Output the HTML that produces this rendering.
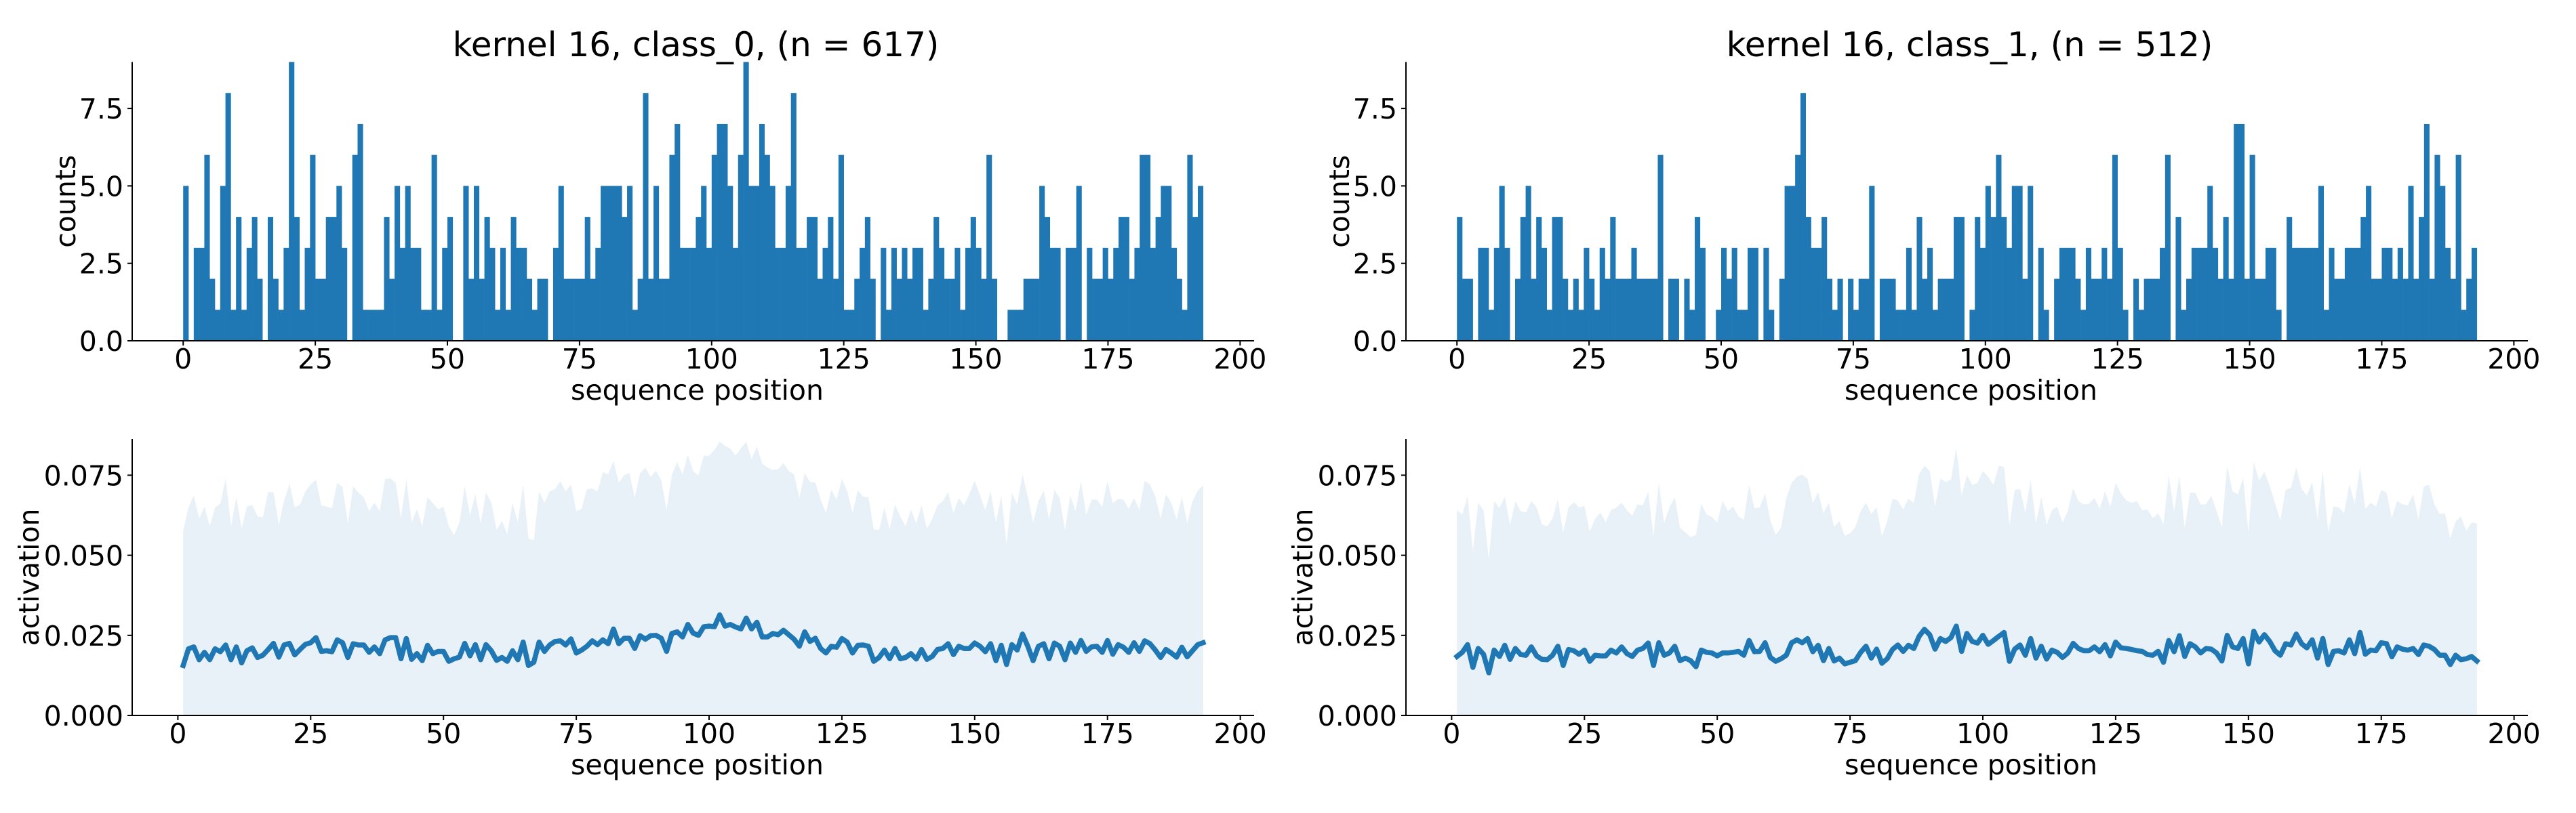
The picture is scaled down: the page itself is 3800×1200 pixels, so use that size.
<!DOCTYPE html>
<html><head><meta charset="utf-8"><title>kernel 16 activations</title>
<style>
html,body{margin:0;padding:0;background:#fff;}
svg{display:block;font-family:"DejaVu Sans","Liberation Sans",sans-serif;}
</style></head>
<body>
<svg id="fig" width="3800" height="1200" viewBox="0 0 3800 1200" xmlns="http://www.w3.org/2000/svg">
<rect x="0" y="0" width="3800" height="1200" fill="#ffffff"/>
</svg>
<script>
// ---------- DATA ----------
const xTicks = [0, 25, 50, 75, 100, 125, 150, 175, 200];
const countTicks = [0, 2.5, 5, 7.5];
const countTickLabels = ["0.0", "2.5", "5.0", "7.5"];
const actTicks = [0, 25, 50, 75];            // in units of 1e-3
const actTickLabels = ["0.000", "0.025", "0.050", "0.075"];
const titles = ["kernel 16, class_0, (n = 617)", "kernel 16, class_1, (n = 512)"];

const counts0 = [5,0,3,3,6,2,1,5,8,1,4,1,3,4,2,0,4,2,1,3,9,4,1,3,6,2,2,4,4,5,3,0,6,7,1,1,1,1,4,2,5,3,5,3,3,1,1,6,1,3,4,0,0,5,2,5,2,4,3,1,3,1,4,3,3,2,1,2,2,0,3,5,2,2,2,2,4,2,3,5,5,5,5,4,5,1,2,8,2,5,2,2,6,7,3,3,3,4,5,3,
6,7,7,5,3,6,9,5,5,7,6,5,3,3,5,8,3,3,4,4,2,3,4,2,6,1,1,2,3,4,2,0,3,1,3,2,3,2,3,3,1,2,4,3,2,2,3,1,3,4,3,2,6,2,0,0,1,1,1,2,2,2,5,4,3,3,0,3,3,5,0,3,2,2,3,2,3,4,4,2,3,6,6,3,4,5,5,3,2,1,6,4,5];
const counts1 = [4,2,2,0,3,3,1,3,5,3,0,2,4,5,2,4,3,1,4,4,2,1,2,1,3,2,1,3,2,4,2,2,2,3,2,2,2,2,6,0,2,2,0,2,1,4,3,0,0,1,3,2,3,1,1,3,3,0,3,1,0,2,5,5,6,8,4,3,3,4,2,1,2,0,2,1,2,2,5,0,2,2,2,1,1,3,1,4,2,3,1,2,2,2,4,4,0,1,4,3,
5,4,6,4,3,5,5,2,5,0,3,1,0,2,3,3,3,2,1,3,2,2,3,2,6,3,1,0,2,1,2,2,2,3,6,0,4,1,2,3,3,3,5,3,2,4,2,7,7,2,6,2,2,3,3,1,0,4,3,3,3,3,3,5,1,3,2,2,3,3,3,4,5,2,2,3,3,2,3,2,5,2,4,7,2,6,5,3,2,6,1,2,3];

// activation values in units of 1e-3, positions 1..193
const mean0 = [15.6,20.8,21.4,17.4,19.7,17.4,20.8,19.9,22,17.4,21.4,16.4,20.2,21.1,18.1,18.8,20.6,22.5,18.2,22,22.5,18.9,20.6,22.2,22.7,24.3,20,20.2,19.9,23.6,22.7,18.1,22.4,22,22,19.7,21.4,19.3,23.6,24.3,24.3,17.7,24,17.5,19.3,17.1,21.9,19.3,20,20,16.9,17.7,18.2,22.5,18.6,22.1,17.4,22.1,20.2,17.2,18.1,16.9,20.2,17.4,22.9,15.6,16.6,22.9,20,22,23.1,23.3,22,23.9,19.5,20.4,21.6,23.3,22.1,23.6,22.4,27,22.4,24.1,24.1,20.9,24.9,23.8,24.9,25,24.1,20,25.6,26.1,24.5,28.4,25.7,25,27.7,27.9,
27.7,31.4,27.9,28.4,27.6,27,30.4,27,29.1,24.5,24.5,25.6,25.2,26.6,25.2,23.8,21.6,26.1,23.1,24.1,20.9,19.5,21.6,21.3,24,22.9,19.5,21.9,22,21.6,16.9,18.1,20.4,17.7,20.9,17.7,18.1,19.3,17.6,20.6,17.5,18.4,20.6,20.9,22.4,19,21.6,20.9,20.9,22.6,21.6,19.9,22.4,17.1,21.9,15.9,22.1,20.4,25.4,21.6,17.1,21.6,22.4,17.7,22.6,21.6,17.4,22.6,19.7,23.4,20,21.4,21.6,19.7,23.4,19.1,22.1,21.3,19.7,22.7,20,23.3,22.4,20.4,18.1,20.6,19.5,18.2,21.3,18.3,20.2,22.1,22.7];
const upper0 = [57.7,64.9,68.8,61.4,65.2,59.1,64.9,66.1,73.9,59.1,68.1,58.4,65.2,65.7,62.1,61.9,69.7,69.7,59.5,67,72.4,65,65.9,69.9,72.1,73.6,65.6,65.2,64.7,72.6,71.3,59.9,71.6,69.5,68.1,63.8,66.4,63.8,73.8,74,72.6,61.6,73.8,60.2,64.5,59.1,68.1,66.3,64.3,65.2,59.1,56.3,60.2,71.6,62.4,69.1,59.9,69.5,66.6,57.9,60.7,56.6,66.4,60.2,72,55.2,54.7,69.9,66.4,69.9,70.7,73.1,69.9,72.1,63.8,64.5,70.6,70.9,69.9,75.9,75.2,79.5,72.6,75,75.7,67.9,75.6,77.4,74.5,76.4,73.4,64.1,75.2,79.1,75.2,81.4,76.3,74.9,81.1,81.1,
82.9,85.5,84.1,83.3,81.1,83.4,85.5,80,84,78.6,77.4,76.6,76.9,78.8,76.3,75.2,67.9,75.7,72.9,72.7,67.4,63.3,70.4,67.4,73.8,70,63.3,70.2,68.3,68.1,58.1,57.9,64.9,58.1,65.9,62,59.1,64.3,59.9,65.7,58.3,61.3,65.6,66.9,69.7,63.1,67.9,65.6,69.1,73.3,68.8,64.1,70,60.2,68.6,53.4,69.5,65.9,75.2,68.4,60.2,67,70.2,61.3,70.4,67.9,57.9,68.6,63.8,73.1,62.6,67.4,67.4,65.2,73.1,66.3,67.6,67.4,64.5,67.9,64.1,73.3,72.1,68.4,61.6,69,66.4,61.1,68.3,60,66.9,70.2,71.9];
const mean1 = [18.4,19.7,22.1,15,20.9,19.1,13.3,20.4,18.4,21.9,17.5,20.9,19,18.8,21.4,18.6,17.5,17.4,18.8,21.6,15.6,20.6,20.2,19.1,20.4,16.9,18.8,18.6,18.6,20.4,19.5,21.4,19.3,18.4,20.4,20.9,22.6,15.6,22.7,18.8,19.5,21.6,17.1,17.9,17.1,15.2,20.4,19.7,19.5,18.6,19.5,19.5,19.7,20,18.8,23.4,19.9,20,22.7,18.1,16.9,17.7,18.8,22.7,23.6,22.7,24,19.9,21.9,17.1,20.9,17,17.9,16.1,16.6,17.1,19.7,21.6,17.9,20.7,16.3,17.7,20.6,22,20,21.9,20.9,24.7,26.9,25.2,20.7,24,23.1,24.3,27.9,20,25.6,23.1,22.6,25,
22.2,23.4,24.7,25.9,16.9,20.7,22,18.8,24,17.9,21.6,17.6,20.4,19.7,18.1,19.5,22.5,20.9,20.2,20.2,21.4,19.9,22.1,18.6,22.9,21.1,20.9,20.6,20.2,20,19,18.8,20,16.6,23.4,19.9,24.9,18.4,22.4,21.4,19.5,20.9,20.7,19.5,17,25,21.4,20.9,24,16.1,26.3,22.9,25.2,23.1,20.2,18.8,22.4,22,25.4,22.4,21.1,23.6,17.9,24,15.9,20,20.2,19.5,23.6,19.3,25.9,19.1,20.4,20.2,22.7,22.4,18.3,21.4,20.7,20.4,20.9,19,22,21.6,20.6,18.8,18.8,15.9,18.8,17.4,17.7,18.4,17];
const upper1 = [64.1,62.7,68.4,51.4,66.4,64,48.8,67,64.7,68.3,59.5,66.9,63.8,63.4,66.9,65,59.7,59,61.6,67.4,57.1,64.9,66.6,64.9,65.4,57.4,61.4,63.3,60.4,64.1,64.9,66.4,64,62.4,65.9,65.6,69.9,55.7,72.7,60.2,64.9,68.1,58.6,57.1,55.7,56.3,66.1,62.7,62,60.2,67,63.8,65.2,62.1,61.1,72,64.7,64.9,69.3,60.9,56.4,58.6,67.7,72.6,74.5,75.2,73.8,66.3,69.7,63.1,66.4,58.8,60.7,56.1,56.9,58.8,63.8,66.4,62.9,65,55.9,60.6,67.6,67.1,64.3,67.7,66.3,75.4,77.9,76.4,65.2,74,72.9,73.6,83.6,68.6,75,72,72.6,76.3,
74.5,72,77.9,77.6,59.5,70.4,70.7,63.3,73.6,60,68.3,59.5,64.1,65.2,60.2,63.8,70.9,66.9,65.9,66.1,67.9,64.5,70,65.2,72.6,69.3,67.1,66.4,66.9,64.1,64.3,61.6,63.1,59.7,74.9,63.6,74.9,58.4,69.5,69.5,65.9,65.9,68.6,63.8,58.8,77.9,70,69,74.1,57,79.1,73.4,76.1,71.6,66.3,60.9,70.4,71.1,77.4,70.7,68.6,72.9,61.1,76.3,57.1,65.2,65,63.1,72.1,66.1,77.6,64.5,66.4,65.2,70.4,69.5,61.6,67,65.9,65.6,69,61.3,71.4,72.1,65.9,62.9,63.1,55.2,60.6,62.1,57.7,60.2,60];

// ---------- RENDERING ----------
const NS = "http://www.w3.org/2000/svg";
const svg = document.getElementById("fig");
const BLUE = "#1f77b4";
const FS = 41;

function mk(tag, attrs, parent) {
  const e = document.createElementNS(NS, tag);
  for (const k in attrs) e.setAttribute(k, attrs[k]);
  (parent || svg).appendChild(e);
  return e;
}
function txt(s, attrs, parent) { const t = mk("text", attrs, parent); t.textContent = s; return t; }

function makeScale(d0, d1, r0, r1) { return v => r0 + (v - d0) / (d1 - d0) * (r1 - r0); }

function drawAxes(g, X, Y, x0, x1, yTop, yBot, yt, ytl, ylabel, ylabelName, prefix) {
  const sl = mk("line", {x1: x0, y1: yTop, x2: x0, y2: yBot, stroke: "#000", "stroke-width": 2}, g);
  
  
  const sb = mk("line", {x1: x0, y1: yBot, x2: x1, y2: yBot, stroke: "#000", "stroke-width": 2}, g);
  
  
  xTicks.forEach(v => {
    const px = X(v);
    const tk = mk("line", {x1: px, y1: yBot, x2: px, y2: yBot + 7, stroke: "#000", "stroke-width": 2}, g);
    
    
    const tl = txt(String(v), {x: px, y: yBot + 41, "font-size": FS, "text-anchor": "middle", fill: "#000"}, g);
    
    
  });
  yt.forEach((v, i) => {
    const py = Y(v);
    const tk = mk("line", {x1: x0 - 7, y1: py, x2: x0, y2: py, stroke: "#000", "stroke-width": 2}, g);
    
    
    const tl = txt(ytl[i], {x: x0 - 13, y: py + 15, "font-size": FS, "text-anchor": "end", fill: "#000"}, g);
    
    
  });
  const xl = txt("sequence position", {x: (x0 + x1) / 2 + 6, y: yBot + 87, "font-size": FS, "text-anchor": "middle", fill: "#000"}, g);
  
  
  const lx = x0 - ylabelName, ly = (yTop + yBot) / 2;
  const yl = txt(ylabel, {x: lx, y: ly, "font-size": FS, "text-anchor": "middle", "dominant-baseline": "central", transform: "rotate(-90 " + lx + " " + ly + ")", fill: "#000"}, g);
  
  
}

const cols = [
  {x0: 195, x1: 1850, counts: counts0, mean: mean0, upper: upper0, title: titles[0], tag: "class0"},
  {x0: 2074, x1: 3729, counts: counts1, mean: mean1, upper: upper1, title: titles[1], tag: "class1"}
];

cols.forEach(c => {
  const g1 = mk("g", {});
  
  
  const hTop = 91.5, hBot = 503;
  const X1 = makeScale(-9.65, 202.65, c.x0, c.x1);
  const Y1 = makeScale(0, 9, hBot, hTop);
  const bars = mk("g", {fill: BLUE}, g1);
  
  
  c.counts.forEach((v, i) => {
    if (v <= 0) return;
    const xa = X1(i), xb = X1(i + 1);
    const r = mk("rect", {x: xa, y: Y1(v), width: xb - xa + 0.3, height: Y1(0) - Y1(v)}, bars);
    
    
  });
  drawAxes(g1, X1, Y1, c.x0, c.x1, hTop, hBot, countTicks, countTickLabels, "counts", 98, c.tag + '-histogram');
  const t = txt(c.title, {x: (c.x0 + c.x1) / 2 + 4, y: 83, "font-size": 50, "text-anchor": "middle", fill: "#000"}, g1);
  
  

  const g2 = mk("g", {});
  
  
  const aTop = 648, aBot = 1056;
  const X2 = makeScale(-8.6, 202.6, c.x0, c.x1);
  const Y2 = makeScale(0, 86.3, aBot, aTop);
  let d = "M" + X2(1) + "," + Y2(0);
  c.upper.forEach((v, i) => { d += " L" + X2(i + 1) + "," + Y2(v); });
  d += " L" + X2(c.upper.length) + "," + Y2(0) + " Z";
  const band = mk("path", {d: d, fill: BLUE, "fill-opacity": 0.1, stroke: "none"}, g2);
  
  
  const pts = c.mean.map((v, i) => X2(i + 1) + "," + Y2(v)).join(" ");
  const line = mk("polyline", {points: pts, fill: "none", stroke: BLUE, "stroke-width": 7.5, "stroke-linejoin": "round", "stroke-linecap": "square"}, g2);
  
  
  drawAxes(g2, X2, Y2, c.x0, c.x1, aTop, aBot, actTicks, actTickLabels, "activation", 152, c.tag + '-activation');
});
</script>
</body></html>
